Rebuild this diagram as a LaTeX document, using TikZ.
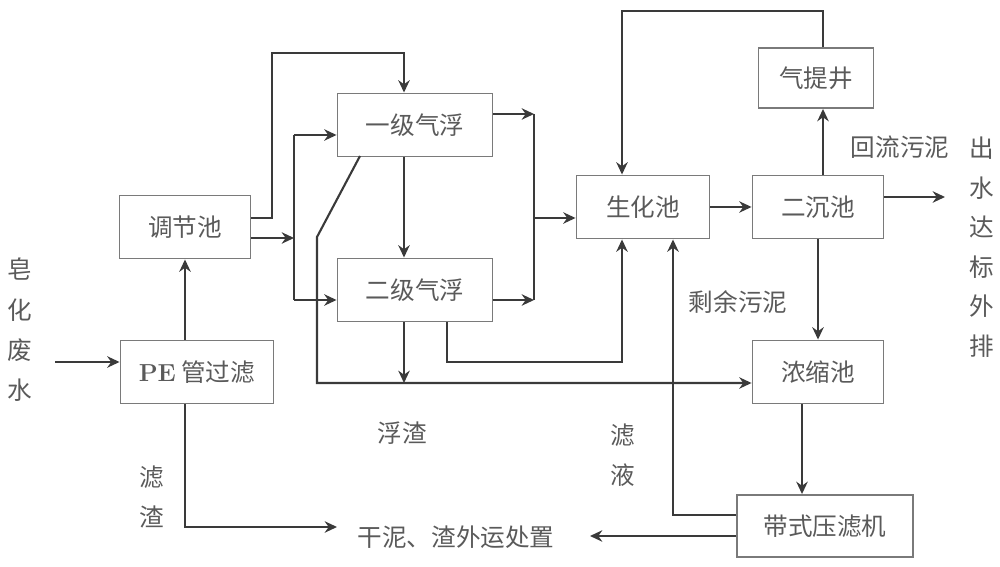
\documentclass[tikz,border=0pt]{standalone}
\usepackage{fontspec}
\newfontfamily\cjk{Noto Sans CJK SC}
\usepackage{tikz}
\usetikzlibrary{arrows.meta}
\definecolor{linegray}{HTML}{3A3A3A}
\definecolor{boxgray}{HTML}{7A7A7A}
\definecolor{txtgray}{HTML}{5A5A5A}
\tikzset{
   box/.style={draw=boxgray, line width=1.1pt, minimum height=1.26cm,
           font=\cjk\fontsize{14}{17}\selectfont, text=txtgray},
   label/.style={font=\cjk\fontsize{14}{17}\selectfont, text=txtgray, inner sep=0pt},
   vlabel/.style={label, align=center, font=\cjk\fontsize{14}{23}\selectfont},
   pipe/.style={draw=linegray, line width=1.2pt},
   flow/.style={pipe, -{Stealth[length=7pt,width=6.5pt]}},
}

\begin{document}
\begin{tikzpicture}[x=0.02cm, y=-0.02cm]
    \useasboundingbox (0,0) rectangle (1000,567);

    % units
    \node[box, minimum width=2.62cm] (tiaojie) at (185,227) {调节池};
    \node[box, minimum width=3.06cm] (pe) at (197,372) {{\rmfamily\bfseries PE} 管过滤};
    \node[box, minimum width=3.10cm] (fu1) at (415,125) {一级气浮};
    \node[box, minimum width=3.10cm] (fu2) at (415,290) {二级气浮};
    \node[box, minimum width=2.66cm] (shenghua) at (643,207) {生化池};
    \node[box, minimum width=2.62cm] (erchen) at (818,207) {二沉池};
    \node[box, minimum width=2.30cm, minimum height=1.20cm] (qiti) at (816,78) {气提井};
    \node[box, minimum width=2.62cm] (nongsuo) at (818,372) {浓缩池};
    \node[box, minimum width=3.52cm, minimum height=1.24cm] (yalv) at (825,526) {带式压滤机};

    % texts
    \node[vlabel] (feishui) at (20,330) {皂\\化\\废\\水};
    \node[vlabel, font=\cjk\fontsize{14}{22.5}\selectfont] (chushui) at (982,247) {出\\水\\达\\标\\外\\排};
    \node[label] (huiliu) at (900,147) {回流污泥};
    \node[label] (shengyu) at (738,302) {剩余污泥};
    \node[label] (fuzha) at (402,433) {浮渣};
    \node[vlabel] (lvzha) at (152,497) {滤\\渣};
    \node[vlabel] (lvye) at (623,455) {滤\\液};
    \node[label] (ganni) at (456,537) {干泥、渣外运处置};

    % junctions
    \coordinate (in) at (55,362);
    \coordinate (a1) at (272,218);
    \coordinate (a2) at (272,53);
    \coordinate (a3) at (404,53);
    \coordinate (b1) at (294,238);
    \coordinate (b2) at (294,135);
    \coordinate (b3) at (294,300);
    \coordinate (c1) at (534,114);
    \coordinate (c2) at (534,300);
    \coordinate (c3) at (534,218);
    \coordinate (d1) at (360,156);
    \coordinate (d2) at (317,237);
    \coordinate (d3) at (317,383);
    \coordinate (e1) at (447,362);
    \coordinate (e2) at (622,362);
    \coordinate (f1) at (823,11);
    \coordinate (f2) at (622,11);
    \coordinate (g1) at (945,197);
    \coordinate (h1) at (802,404);
    \coordinate (k1) at (673,515);
    \coordinate (m1) at (590,536);
    \coordinate (n1) at (185,527);
    \coordinate (n2) at (337,527);

    % pretreatment
    \draw[flow] (in) -- (pe.west |- in);
    \draw[flow] (tiaojie.south |- pe.north) -- (tiaojie.south);
    \draw[flow] (tiaojie.east |- a1) -- (a1) -- (a2) -- (a3) -- (a3 |- fu1.north);
    \draw[flow] (tiaojie.east |- b1) -- (b1);
    \draw[pipe] (b2) -- (b3);
    \draw[flow] (b2) -- (b2 -| fu1.west);
    \draw[flow] (b3) -- (b3 -| fu2.west);
    \draw[flow] (a3 |- fu1.south) -- (a3 |- fu2.north);

    \draw[flow] (fu1.east |- c1) -- (c1);
    \draw[flow] (fu2.east |- c2) -- (c2);
    \draw[pipe] (c1) -- (c2);
    \draw[flow] (c3) -- (c3 -| shenghua.west);

    % scum and sludge
    \draw[flow] (d1) -- (d2) -- (d3) -- (d3 -| nongsuo.west);
    \draw[flow] (a3 |- fu2.south) -- (a3 |- d3);
    \draw[flow] (e1 |- fu2.south) -- (e1) -- (e2) -- (e2 |- shenghua.south);

    % biological part
    \draw[flow] (shenghua.east) -- (erchen.west);
    \draw[flow] (f1 |- erchen.north) -- (f1 |- qiti.south);
    \draw[flow] (f1 |- qiti.north) -- (f1) -- (f2) -- (f2 |- shenghua.north);
    \draw[flow] (erchen.east |- g1) -- (g1);
    \draw[flow] (erchen.south) -- (nongsuo.north);
    \draw[flow] (h1 |- nongsuo.south) -- (h1 |- yalv.north);
    \draw[flow] (yalv.west |- k1) -- (k1) -- (k1 |- shenghua.south);
    \draw[flow] (yalv.west |- m1) -- (m1);
    \draw[flow] (n1 |- pe.south) -- (n1) -- (n2);

\end{tikzpicture}
\end{document}
